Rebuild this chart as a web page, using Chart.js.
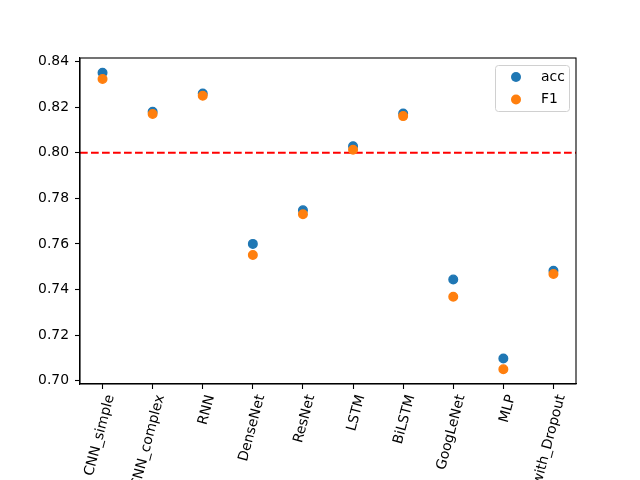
<!DOCTYPE html>
<html>
<head>
<meta charset="utf-8">
<script src="https://cdn.jsdelivr.net/npm/chart.js@4"></script>
<style>
  html, body { margin: 0; padding: 0; background: #fff; }
  canvas { display: block; }
</style>
</head>
<body>
<canvas id="chart" width="640" height="480"></canvas>
<script>
const categories = ['CNN_simple', 'CNN_complex', 'RNN', 'DenseNet', 'ResNet', 'LSTM', 'BiLSTM', 'GoogLeNet', 'MLP', 'MLP_with_Dropout']
const acc = [0.8351, 0.8180, 0.8260, 0.7600, 0.7748, 0.8029, 0.8172, 0.7444, 0.7097, 0.7482]
const f1 = [0.8324, 0.8170, 0.8250, 0.7551, 0.7730, 0.8013, 0.8161, 0.7368, 0.7050, 0.7468]
const yTicks = [0.70, 0.72, 0.74, 0.76, 0.78, 0.80, 0.82, 0.84]
const threshold = 0.80

const FONT = 'DejaVu Sans'
const BLUE = '#1f77b4'
const ORANGE = '#ff7f0e'

// matplotlib style 5% margins
const lo = Math.min(...acc, ...f1)
const hi = Math.max(...acc, ...f1)
const yMin = lo - (hi - lo) * 0.05
const yMax = hi + (hi - lo) * 0.05
const xMin = -0.45
const xMax = categories.length - 1 + 0.45

function toPoints(values) {
  return values.map((v, i) => ({ x: i, y: v }))
}

// axes frame + legend in the upper right
const framePlugin = {
  id: 'frame',
  afterDraw(chart) {
    const ctx = chart.ctx
    const a = chart.chartArea
    ctx.save()
    ctx.strokeStyle = '#000'
    ctx.lineWidth = 1.1
    ctx.strokeRect(a.left, a.top, a.right - a.left, a.bottom - a.top)

    const items = chart.data.datasets.filter(d => d.inLegend)
    const bx = 495, by = 65, bw = 74, bh = 46
    ctx.fillStyle = 'rgba(255,255,255,0.8)'
    ctx.strokeStyle = '#d0d0d0'
    ctx.lineWidth = 1
    ctx.beginPath()
    ctx.roundRect(bx + 0.5, by + 0.5, bw, bh, 3)
    ctx.fill()
    ctx.stroke()
    ctx.font = '13.9px ' + FONT
    ctx.textBaseline = 'middle'
    items.forEach((d, i) => {
      const cy = by + 12 + i * 22.5
      ctx.fillStyle = d.backgroundColor
      ctx.beginPath()
      ctx.arc(bx + 21, cy, 5, 0, Math.PI * 2)
      ctx.fill()
      ctx.fillStyle = '#000'
      ctx.fillText(d.label, bx + 46, cy)
    })
    ctx.restore()
  }
}

const data = {
  datasets: [
    {
      label: 'acc',
      data: toPoints(acc),
      backgroundColor: BLUE,
      borderColor: BLUE,
      pointRadius: 4.3,
      borderWidth: 1.4,
      order: 1,
      inLegend: true
    },
    {
      label: 'F1',
      data: toPoints(f1),
      backgroundColor: ORANGE,
      borderColor: ORANGE,
      pointRadius: 4.3,
      borderWidth: 1.4,
      order: 0,
      inLegend: true
    },
    {
      label: 'threshold',
      type: 'line',
      data: [{ x: xMin, y: threshold }, { x: xMax, y: threshold }],
      borderColor: 'red',
      borderWidth: 2.1,
      borderDash: [7.7, 3.3],
      pointRadius: 0,
      showLine: true,
      fill: false,
      order: 2
    }
  ]
}

const config = {
  type: 'scatter',
  data: data,
  plugins: [framePlugin],
  options: {
    responsive: false,
    animation: false,
    layout: { padding: { top: 58, right: 64, left: 0, bottom: 0 } },
    plugins: {
      legend: { display: false },
      tooltip: { enabled: false }
    },
    scales: {
      x: {
        type: 'linear',
        min: xMin,
        max: xMax,
        afterBuildTicks: (scale) => { scale.ticks = categories.map((c, i) => ({ value: i })) },
        afterFit: (scale) => { scale.height = 96 },
        grid: { drawOnChartArea: false, tickLength: 5, tickColor: '#000', tickWidth: 1.1 },
        border: { color: '#000', width: 1.1 },
        ticks: {
          autoSkip: false,
          minRotation: 75,
          maxRotation: 75,
          padding: 4,
          labelOffset: 8,
          color: '#000',
          font: { family: FONT, size: 13.9 },
          callback: (v) => categories[v]
        }
      },
      y: {
        min: yMin,
        max: yMax,
        afterBuildTicks: (scale) => { scale.ticks = yTicks.map(v => ({ value: v })) },
        afterFit: (scale) => { scale.width = 80 },
        grid: { drawOnChartArea: false, tickLength: 5, tickColor: '#000', tickWidth: 1.1 },
        border: { color: '#000', width: 1.1 },
        ticks: {
          padding: 6,
          color: '#000',
          font: { family: FONT, size: 13.9 },
          callback: (v) => v.toFixed(2)
        }
      }
    }
  }
}

new Chart(document.getElementById('chart'), config)
</script>
</body>
</html>
